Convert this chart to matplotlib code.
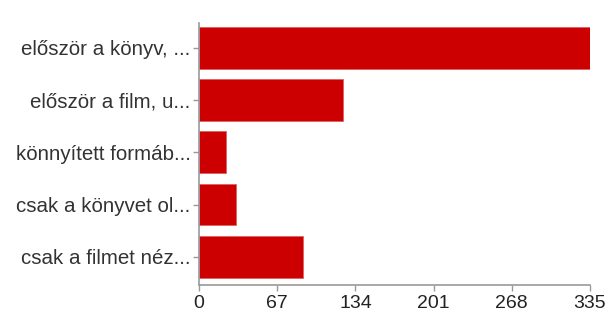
import matplotlib
matplotlib.use("Agg")
import matplotlib.pyplot as plt

categories = ["először a könyv, ...", "először a film, u...", "könnyített formáb...",
              "csak a könyvet ol...", "csak a filmet néz..."]
values = [335, 123, 23, 32, 89]
ticks = [0, 67, 134, 201, 268, 335]

plt.rcParams['font.family'] = ['Liberation Sans', 'DejaVu Sans']
fig = plt.figure(figsize=(6.09, 3.13), dpi=100)
ax = fig.add_axes([199/609, 1-285/313, (590-199)/609, (285-22.7)/313])
y = list(range(len(categories)))
ax.barh(y, values, height=0.8, color='#cc0000', edgecolor='#e06060', linewidth=0.6)
ax.set_xlim(0, 335)
ax.set_ylim(4.54, -0.48)
ax.set_yticks(y)
ax.set_yticklabels(categories, fontsize=14.8, color='#333333')
ax.set_xticks(ticks)
ax.set_xticklabels([str(t) for t in ticks], fontsize=14, color='#222222')
for s in ['top', 'right']:
    ax.spines[s].set_visible(False)
for s in ['left', 'bottom']:
    ax.spines[s].set_color('#999999')
    ax.spines[s].set_linewidth(1.2)
ax.tick_params(axis='both', color='#999999', length=4, width=1)
ax.tick_params(axis='y', pad=2)
ax.tick_params(axis='x', pad=3)
fig.savefig("out.png", dpi=100, facecolor='white')
